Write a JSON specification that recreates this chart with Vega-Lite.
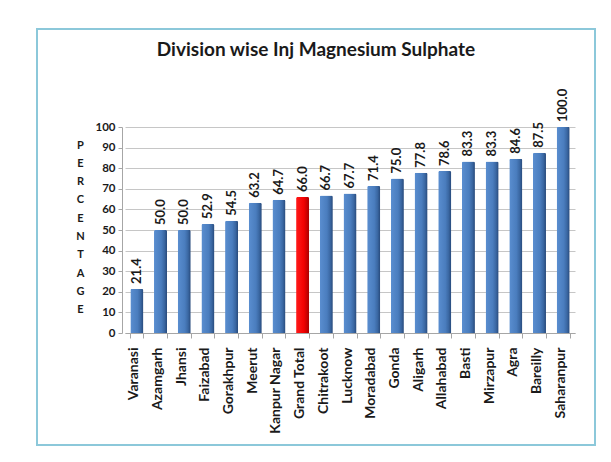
{
  "$schema": "https://vega.github.io/schema/vega-lite/v6.json",
  "width": 558,
  "height": 416,
  "autosize": {"type": "none"},
  "padding": {"left": 37, "top": 29, "right": 16, "bottom": 17},
  "background": "white",
  "config": {
    "view": {"stroke": "#8CC8DA", "strokeWidth": 2, "fill": "white"},
    "font": "Lato"
  },
  "title": {
    "text": "Division wise Inj Magnesium Sulphate",
    "font": "Lato",
    "fontSize": 19,
    "fontWeight": "bold",
    "color": "#1a1a1a",
    "anchor": "middle",
    "baseline": "bottom",
    "offset": -50
  },
  "data": {
    "values": [
      {"Division": "Varanasi", "Percentage": 21.4},
      {"Division": "Azamgarh", "Percentage": 50.0},
      {"Division": "Jhansi", "Percentage": 50.0},
      {"Division": "Faizabad", "Percentage": 52.9},
      {"Division": "Gorakhpur", "Percentage": 54.5},
      {"Division": "Meerut", "Percentage": 63.2},
      {"Division": "Kanpur Nagar", "Percentage": 64.7},
      {"Division": "Grand Total", "Percentage": 66.0},
      {"Division": "Chitrakoot", "Percentage": 66.7},
      {"Division": "Lucknow", "Percentage": 67.7},
      {"Division": "Moradabad", "Percentage": 71.4},
      {"Division": "Gonda", "Percentage": 75.0},
      {"Division": "Aligarh", "Percentage": 77.8},
      {"Division": "Allahabad", "Percentage": 78.6},
      {"Division": "Basti", "Percentage": 83.3},
      {"Division": "Mirzapur", "Percentage": 83.3},
      {"Division": "Agra", "Percentage": 84.6},
      {"Division": "Bareilly", "Percentage": 87.5},
      {"Division": "Saharanpur", "Percentage": 100.0}
    ]
  },
  "encoding": {
    "x": {
      "field": "Division",
      "type": "nominal",
      "sort": null,
      "scale": {
        "domain": ["Varanasi", "Azamgarh", "Jhansi", "Faizabad", "Gorakhpur", "Meerut", "Kanpur Nagar", "Grand Total", "Chitrakoot", "Lucknow", "Moradabad", "Gonda", "Aligarh", "Allahabad", "Basti", "Mirzapur", "Agra", "Bareilly", "Saharanpur"],
        "range": [88, 538],
        "paddingInner": 0.45,
        "paddingOuter": 0.225
      },
      "axis": {
        "title": null,
        "orient": "bottom",
        "offset": -112,
        "labelAngle": -90,
        "labelAlign": "right",
        "labelBaseline": "middle",
        "labelFont": "Lato",
        "labelFontSize": 14,
        "labelFontWeight": "bold",
        "labelColor": "#1a1a1a",
        "labelPadding": 9,
        "labelOffset": -3,
        "tickBand": "extent",
        "tickSize": 5,
        "tickColor": "#a6a6a6",
        "domainColor": "#a6a6a6",
        "grid": false
      }
    },
    "y": {
      "field": "Percentage",
      "type": "quantitative",
      "scale": {"domain": [0, 100], "range": [304, 98], "nice": false},
      "axis": {
        "values": [0, 10, 20, 30, 40, 50, 60, 70, 80, 90, 100],
        "offset": -85,
        "labelFont": "Lato",
        "labelFontSize": 11.5,
        "labelFontWeight": "bold",
        "labelColor": "#1a1a1a",
        "labelPadding": 3,
        "tickSize": 4,
        "tickColor": "#a6a6a6",
        "domainColor": "#a6a6a6",
        "gridColor": "#c6c6c6",
        "gridWidth": 1,
        "title": ["P", "E", "R", "C", "E", "N", "T", "A", "G", "E"],
        "titleAngle": 0,
        "titleX": -42,
        "titleY": 110,
        "titleAlign": "center",
        "titleBaseline": "top",
        "titleLineHeight": 18.3,
        "titleFont": "Lato",
        "titleFontSize": 11,
        "titleFontWeight": "bold",
        "titleColor": "#1a1a1a"
      }
    }
  },
  "layer": [
    {
      "transform": [{"filter": "datum.Division !== 'Grand Total'"}],
      "mark": {
        "type": "bar",
        "cornerRadiusTopLeft": 1.5,
        "cornerRadiusTopRight": 1.5,
        "color": {
          "gradient": "linear",
          "x1": 0, "x2": 1, "y1": 0, "y2": 0,
          "stops": [
            {"offset": 0, "color": "#5A8ED0"},
            {"offset": 0.55, "color": "#4A7DBE"},
            {"offset": 0.8, "color": "#3A67A2"},
            {"offset": 1, "color": "#27497A"}
          ]
        }
      }
    },
    {
      "transform": [{"filter": "datum.Division === 'Grand Total'"}],
      "mark": {
        "type": "bar",
        "cornerRadiusTopLeft": 1.5,
        "cornerRadiusTopRight": 1.5,
        "color": {
          "gradient": "linear",
          "x1": 0, "x2": 1, "y1": 0, "y2": 0,
          "stops": [
            {"offset": 0, "color": "#FF1A1A"},
            {"offset": 0.6, "color": "#F20000"},
            {"offset": 1, "color": "#A80000"}
          ]
        }
      }
    },
    {
      "mark": {
        "type": "text",
        "angle": 270,
        "align": "left",
        "baseline": "middle",
        "dx": 5,
        "font": "Lato",
        "fontSize": 13,
        "fontWeight": "bold",
        "color": "#1a1a1a"
      },
      "encoding": {
        "text": {"field": "Percentage", "type": "quantitative", "format": ".1f"}
      }
    }
  ]
}
